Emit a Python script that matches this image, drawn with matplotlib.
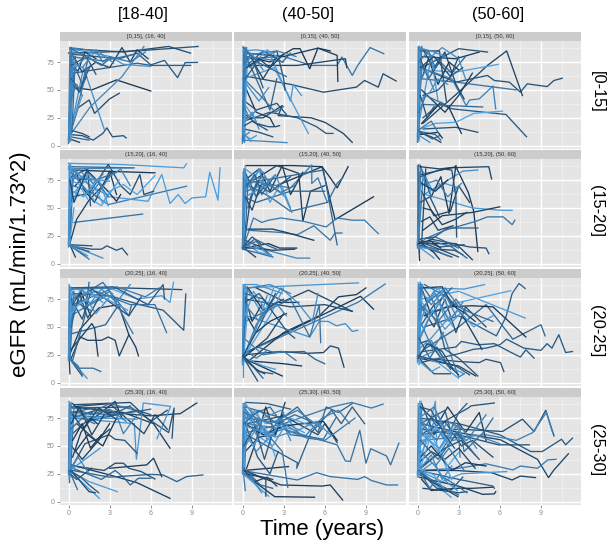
import matplotlib
matplotlib.use("Agg")
import matplotlib.pyplot as plt
from matplotlib.colors import LinearSegmentedColormap

plt.rcParams['font.family'] = ['Liberation Sans', 'DejaVu Sans']

# each trajectory: patient shade (0 dark .. 1 light), times (years), eGFR
# names: egfr_<baseline bmi row>_<age column>
egfr_0_18 = [
    (0.3, [0.0, 5.0, 9.45], [83, 85, 89]),
    (0.25, [0.1, 4.0, 7.3, 8.9], [87, 84, 89, 83]),
    (0.35, [0.3, 3.7, 5.0, 6.0, 7.0, 7.95, 8.5, 9.4], [82, 78, 83, 72.5, 76.5, 61, 74.5, 74.7]),
    (0.4, [0.3, 5.0, 6.0, 8.9], [65, 74, 72, 72]),
    (0.1, [0.4, 1.7, 3.5, 6.0], [52, 50, 59, 49]),
    (0.25, [0.1, 0.7, 1.5, 1.9, 3.0, 3.7], [10, 34, 41, 29, 42, 47]),
    (0.3, [0.1, 1.0, 1.8, 2.5, 2.8, 3.2, 4.0, 4.2], [10, 9, 5, 11, 16, 8, 9, 7]),
    (0.8, [0.2, 3.0, 4.0, 6.0], [87, 80, 73, 71]),
    (0.75, [0.1, 1.1, 2.6], [10, 70, 15]),
    (0.7, [0.2, 1.6, 3.9, 5.5], [11, 35, 62, 89]),
    (0.2, [0.2, 1.0, 2.0, 3.0, 3.9, 4.5, 5.0, 5.8], [84, 66, 75, 70, 88, 75, 86, 78]),
    (0.6, [0.1, 2.0, 2.5, 3.0, 4.5, 5.6], [88, 85, 75, 80, 75, 84]),
    (0.15, [0.3, 0.7, 1.2, 2.0], [70, 67, 84, 78]),
    (0.7, [0.0, 0.25], [3, 86]),
    (0.85, [0.05, 0.3], [8, 78]),
    (0.65, [0.1, 0.35], [14, 60]),
    (0.9, [0.0, 0.2], [5, 65]),
    (0.5, [0.15, 0.5, 1.0, 1.5], [50, 70, 55, 82]),
    (0.2, [0.3, 0.8, 1.3], [55, 48, 62]),
    (0.3, [0.1, 1.0, 1.5], [14, 11, 8]),
    (0.5, [0.1, 1.5], [8, 5]),
    (0.2, [0.1, 0.8], [6, 3]),
    (0.6, [0.15, 0.5, 1.4], [12, 28, 70]),
    (0.85, [0.05, 1.0], [12, 45]),
    (0.45, [0.2, 1.6, 2.4, 3.1], [87, 78, 72, 79]),
    (0.6, [0.0, 0.1], [2, 88]),
    (0.75, [0.05, 0.15], [3, 82]),
    (0.55, [0.1, 0.2], [6, 88]),
    (0.8, [0.15, 0.3], [4, 72]),
    (0.65, [0.05, 0.4], [10, 87]),
    (0.7, [0.0, 0.15], [6, 55]),
    (0.5, [0.25, 0.5], [12, 80]),
    (0.55, [0.1, 2.5, 4.8], [80, 76, 82]),
    (0.35, [0.2, 1.3, 2.0], [72, 80, 64]),
    (0.65, [0.1, 0.9, 1.7], [65, 75, 85]),
    (0.7, [0.3, 1.0, 2.0, 3.3], [75, 70, 86, 74]),
    (0.4, [0.2, 0.8, 1.6], [60, 50, 72]),
    (0.6, [0.1, 0.6, 1.0], [40, 55, 45]),
]
egfr_0_40 = [
    (0.55, [0.1, 3.0, 5.0, 6.9, 7.25, 8.0, 8.4, 9.3, 10.3], [78, 80, 72, 72, 79.5, 63, 72, 88, 82.5]),
    (0.25, [0.4, 3.5, 5.9, 8.3, 8.9, 9.9, 10.25, 11.2], [62, 55, 48, 52.5, 58.5, 52.5, 64.5, 58]),
    (0.2, [0.2, 1.5, 2.9, 2.6, 5.0, 6.0, 7.35, 8.0], [25, 25, 36, 27, 25, 21, 11, 3]),
    (0.35, [0.1, 2.0, 4.0, 5.4, 6.1, 6.6], [22, 30, 25, 17, 11, 11]),
    (0.85, [0.1, 2.3, 4.8], [60, 70, 11]),
    (0.1, [0.3, 2.0, 3.7, 4.2, 4.9, 5.5, 6.4], [80, 75, 87, 87, 69, 87.5, 85]),
    (0.15, [0.2, 3.0, 5.5, 6.9, 6.95], [83, 80, 87.5, 81, 57.7]),
    (0.2, [0.1, 4.0, 7.5, 7.6], [72, 72, 78, 70]),
    (0.7, [0.0, 1.5, 3.25], [5, 4, 2.7]),
    (0.8, [0.1, 0.5, 2.0, 3.5, 3.7, 4.3], [88, 70, 82, 40, 55, 45]),
    (0.3, [0.2, 2.5, 3.0, 3.1], [70, 85, 60, 50]),
    (0.45, [0.1, 2.0, 2.5], [85, 32, 60]),
    (0.75, [0.0, 1.2, 1.9], [60, 40, 52]),
    (0.6, [0.0, 0.2], [3, 88]),
    (0.9, [0.05, 0.3], [8, 86]),
    (0.7, [0.0, 0.15], [12, 70]),
    (0.5, [0.1, 0.3], [30, 84]),
    (0.2, [0.4, 1.5, 2.5], [84, 60, 80]),
    (0.15, [0.3, 1.0, 2.0, 2.3], [50, 30, 25, 18]),
    (0.25, [0.2, 1.0, 1.9, 2.4, 2.7], [28, 20, 17, 17, 18]),
    (0.3, [0.1, 1.2, 2.2], [15, 12, 8]),
    (0.8, [0.05, 0.6, 1.0], [10, 6, 9]),
    (0.85, [0.0, 1.0], [40, 22]),
    (0.65, [0.1, 0.8, 2.5, 3.9], [85, 82, 85, 80]),
    (0.4, [0.15, 1.5, 2.9, 3.5], [70, 85, 75, 83]),
    (0.55, [0.1, 1.3, 2.4, 3.0], [60, 45, 30, 35]),
    (0.9, [0.1, 1.0, 1.8, 2.7], [88, 76, 86, 78]),
    (0.3, [0.15, 1.0, 2.5, 3.2], [40, 32, 38, 28]),
    (0.7, [0.0, 0.05], [2, 89]),
    (0.6, [0.05, 0.1], [4, 84]),
    (0.8, [0.1, 0.1], [3, 88]),
    (0.5, [0.0, 0.25], [6, 78]),
    (0.75, [0.05, 0.2], [10, 88]),
    (0.65, [0.15, 0.3], [4, 88]),
    (0.9, [0.1, 0.35], [14, 72]),
    (0.55, [0.05, 0.15], [25, 85]),
    (0.8, [0.05, 1.0, 2.0], [85, 86, 84]),
    (0.6, [0.1, 1.5, 3.0], [80, 78, 75]),
    (0.7, [0.1, 0.7, 1.5], [70, 82, 68]),
    (0.5, [0.05, 1.1, 1.9, 3.2], [88, 75, 70, 62]),
    (0.35, [0.2, 0.9, 1.5], [60, 72, 52]),
    (0.6, [0.1, 0.5, 1.0], [35, 25, 32]),
    (0.75, [0.05, 0.7, 1.2], [20, 30, 15]),
    (0.8, [0.0, 0.6], [12, 4]),
    (0.3, [0.15, 0.7, 1.8], [18, 22, 14]),
    (0.65, [0.05, 0.5], [8, 12]),
    (0.2, [0.3, 1.2, 2.0, 3.0], [70, 78, 70, 82]),
]
egfr_0_50 = [
    (0.2, [0.4, 3.0, 5.1, 6.5, 7.65], [20, 48, 72, 85, 45]),
    (0.3, [0.2, 2.8, 5.1, 5.6, 6.7, 7.5, 8.0, 9.45, 9.95, 10.55], [70, 57, 63, 58.5, 57, 48, 55.5, 53, 58.5, 60.5]),
    (0.35, [0.4, 1.6, 2.55, 6.45, 7.95], [25, 37.6, 33, 28, 8]),
    (0.3, [0.4, 2.8, 4.4], [15, 16.5, 12]),
    (0.1, [0.3, 1.7, 2.3, 3.2], [20, 39, 34, 11]),
    (0.9, [0.2, 1.3, 2.8, 4.1, 6.2], [15, 20, 21, 29, 31]),
    (0.65, [0.2, 2.5, 3.55, 3.8, 4.5, 5.5, 5.7], [70, 60, 36, 41, 42, 53.5, 33]),
    (0.5, [0.4, 4.75], [37, 34.7]),
    (0.9, [0.2, 2.8, 5.9], [68, 66, 73]),
    (0.15, [0.2, 2.8, 4.5], [80, 78, 84]),
    (0.3, [0.3, 3.0, 5.1], [70, 87, 84]),
    (0.55, [0.3, 2.8, 7.2], [60, 57, 50]),
    (0.6, [0.0, 0.2], [3, 88]),
    (0.85, [0.05, 0.15], [5, 75]),
    (0.75, [0.0, 0.25], [10, 85]),
    (0.2, [0.3, 1.2, 2.0, 2.8, 3.4], [88, 70, 84, 55, 42]),
    (0.45, [0.2, 1.5, 2.5, 3.5], [87, 77, 65, 80]),
    (0.1, [0.3, 0.8, 1.5, 2.3, 3.0], [60, 78, 55, 75, 68]),
    (0.75, [0.1, 1.0, 1.8, 3.0, 3.5], [89, 80, 88, 78, 60]),
    (0.25, [0.2, 1.6, 2.1], [85, 85, 40]),
    (0.8, [0.1, 1.0, 1.5], [20, 80, 40]),
    (0.2, [0.1, 1.0, 1.7], [12, 8, 3]),
    (0.5, [0.1, 1.3, 1.7], [13, 10, 5]),
    (0.1, [0.2, 1.5, 1.8], [10, 12, 7]),
    (0.35, [0.4, 1.5, 2.5, 3.3], [45, 50, 63, 70]),
    (0.15, [0.3, 2.0, 3.0, 4.0], [50, 30, 45, 65]),
    (0.7, [0.0, 0.05], [3, 88]),
    (0.6, [0.05, 0.1], [5, 89]),
    (0.8, [0.1, 0.15], [4, 84]),
    (0.55, [0.0, 0.3], [8, 70]),
    (0.85, [0.05, 0.2], [12, 80]),
    (0.65, [0.1, 0.3], [6, 89]),
    (0.75, [0.05, 1.0, 2.0], [88, 85, 80]),
    (0.6, [0.1, 0.8, 1.3, 2.0], [75, 85, 70, 82]),
    (0.4, [0.2, 0.8, 1.6], [78, 60, 75]),
    (0.7, [0.1, 0.6, 1.2], [55, 68, 50]),
    (0.8, [0.1, 0.9, 1.5, 2.2], [40, 48, 60, 55]),
    (0.3, [0.2, 0.7, 1.2], [45, 25, 35]),
    (0.6, [0.05, 1.0, 1.5], [14, 22, 12]),
    (0.75, [0.0, 0.9], [10, 3]),
    (0.4, [0.1, 1.1, 1.6], [13, 6, 9]),
    (0.55, [0.1, 0.6, 1.8], [30, 45, 38]),
    (0.25, [0.2, 1.2, 2.4, 3.0], [70, 80, 62, 80]),
]
egfr_15_18 = [
    (0.85, [0.0, 3.8, 8.4, 8.6], [90, 89, 86, 89.5]),
    (0.6, [0.3, 1.5, 2.9, 8.6], [70, 65, 53, 69.5]),
    (0.85, [0.3, 3.0, 5.8, 6.2, 6.8, 7.4, 8.0, 8.5, 9.0, 10.0, 10.3, 10.9, 11.05], [80, 60, 56, 66, 80, 54, 62, 54, 59, 60, 82, 57, 86]),
    (0.55, [0.4, 5.4], [37, 44.5]),
    (0.3, [0.1, 1.7, 2.4, 2.8, 3.5, 3.9, 4.3], [16, 13, 13, 16, 12, 14, 8]),
    (0.2, [0.05, 0.6, 1.5, 2.5, 3.2], [16, 40, 57, 70, 83]),
    (0.1, [0.1, 6.3], [84, 81.5]),
    (0.4, [0.0, 4.7], [87, 86]),
    (0.2, [0.1, 0.5], [17, 6]),
    (0.75, [0.1, 2.5], [17, 5]),
    (0.6, [0.1, 1.5], [17, 4]),
    (0.4, [0.1, 1.5], [16, 11]),
    (0.5, [0.1, 1.2], [16, 7]),
    (0.3, [0.1, 1.7], [17, 16]),
    (0.8, [0.0, 0.15], [17, 88]),
    (0.7, [0.05, 0.3], [17, 76]),
    (0.9, [0.0, 0.2], [18, 84]),
    (0.15, [0.4, 1.2, 1.9, 3.0, 3.5], [85, 65, 55, 83, 62]),
    (0.1, [0.5, 1.4, 2.8, 3.5, 3.8], [70, 83, 66, 56, 62]),
    (0.25, [0.3, 1.5, 2.9, 3.8, 4.5, 5.2, 5.5, 6.2], [60, 63, 89, 70, 62, 80, 62, 65]),
    (0.9, [0.1, 1.0, 2.0, 2.4, 3.0, 4.0, 5.0, 6.3], [75, 70, 55, 52, 65, 71, 62, 79]),
    (0.7, [0.1, 1.2, 2.0, 3.0, 3.8, 4.5], [85, 76, 60, 78, 85, 70]),
    (0.9, [0.1, 1.5, 2.5, 3.7], [60, 78, 54, 75]),
    (0.3, [0.2, 1.4, 1.6], [78, 85, 52]),
    (0.5, [0.1, 2.0, 3.5], [77, 75, 82]),
    (0.65, [0.0, 4.8], [85, 86]),
    (0.8, [0.0, 0.05], [15, 90]),
    (0.65, [0.05, 0.1], [16, 86]),
    (0.9, [0.1, 0.15], [17, 89]),
    (0.75, [0.0, 0.25], [18, 65]),
    (0.55, [0.1, 0.35], [16, 84]),
    (0.85, [0.05, 0.4], [17, 50]),
    (0.8, [0.1, 0.9, 1.5, 2.4], [88, 78, 80, 70]),
    (0.7, [0.2, 0.7, 1.8, 2.5], [70, 85, 72, 80]),
    (0.85, [0.3, 1.1, 2.2, 2.9], [65, 60, 76, 52]),
    (0.6, [0.2, 1.6, 2.2, 2.9], [82, 62, 72, 60]),
    (0.9, [0.1, 0.8, 1.4], [50, 70, 58]),
    (0.75, [0.1, 1.0, 3.0], [77, 77, 74]),
    (0.8, [0.05, 1.4], [17, 7]),
    (0.65, [0.05, 1.0], [16, 14]),
    (0.2, [0.1, 0.4, 1.3], [75, 55, 82]),
]
egfr_15_40 = [
    (0.1, [0.3, 3.7, 5.8, 6.4, 6.9, 7.7], [88, 88, 87, 77, 68, 87]),
    (0.1, [2.5, 5.8, 6.75, 9.55], [70, 87, 39.5, 60]),
    (0.15, [0.2, 2.5, 4.1, 4.4, 4.95, 6.0], [70, 88, 81, 38, 65, 70]),
    (0.6, [0.2, 0.8, 1.4, 1.9, 2.8, 4.45, 6.1, 6.9, 8.0, 8.9, 9.9], [20, 41, 37, 39, 41, 38, 33, 41, 39, 39, 27]),
    (0.55, [0.4, 2.8, 4.0, 5.2, 6.4, 6.75, 7.25], [30, 28, 26, 34, 21, 27.5, 27.5]),
    (0.15, [0.4, 2.2, 3.2, 5.2], [31, 31, 28, 21]),
    (0.1, [0.0, 1.9, 2.7, 3.95], [14, 18, 14, 14]),
    (0.7, [1.5, 3.95, 4.9], [13, 5, 5]),
    (0.2, [0.0, 0.95], [15, 6]),
    (0.45, [0.2, 5.9, 6.9], [72, 84, 17]),
    (0.6, [0.1, 3.5, 5.05, 5.05, 5.5, 6.15], [75, 68, 88.5, 72, 77, 56]),
    (0.5, [0.5, 2.0, 3.5, 6.2, 6.9, 7.3], [70, 60, 47, 55, 72, 77]),
    (0.45, [0.1, 1.0, 3.5, 6.0], [60, 55, 65, 65]),
    (0.8, [0.0, 0.2], [14, 88]),
    (0.6, [0.05, 0.25], [16, 78]),
    (0.9, [0.0, 0.15], [15, 65]),
    (0.25, [0.1, 0.6, 1.5], [16, 60, 82]),
    (0.15, [0.2, 1.2, 2.0, 2.9, 3.5, 4.4], [75, 85, 65, 88, 62, 82]),
    (0.85, [0.2, 1.5, 2.0, 2.8, 3.5], [85, 73, 55, 72, 50]),
    (0.75, [0.1, 1.3, 2.1, 3.1, 3.6], [65, 85, 70, 60, 46]),
    (0.35, [0.4, 1.0, 2.0, 3.5], [50, 72, 64, 78]),
    (0.5, [0.0, 1.0, 2.2], [13, 10, 6]),
    (0.3, [0.0, 1.5, 2.0], [22, 14, 8]),
    (0.8, [0.05, 1.2, 2.1], [20, 10, 8]),
    (0.2, [0.1, 1.2, 2.2, 3.8], [14, 14, 12, 13]),
    (0.35, [0.2, 1.0, 2.0], [82, 60, 75]),
    (0.7, [0.0, 0.05], [14, 82]),
    (0.55, [0.05, 0.1], [15, 85]),
    (0.85, [0.1, 0.15], [14, 80]),
    (0.65, [0.0, 0.3], [18, 78]),
    (0.75, [0.05, 0.2], [22, 84]),
    (0.5, [0.15, 0.4], [16, 72]),
    (0.8, [0.1, 0.6, 1.2, 1.7], [80, 70, 85, 65]),
    (0.65, [0.2, 1.0, 1.6, 2.3], [75, 60, 78, 68]),
    (0.4, [0.3, 0.9, 1.4, 2.3], [70, 80, 62, 78]),
    (0.75, [0.2, 1.4, 2.4, 3.0], [60, 68, 80, 62]),
    (0.55, [0.3, 1.7, 2.8, 3.8], [65, 72, 64, 70]),
    (0.25, [0.2, 0.7, 1.3], [60, 48, 70]),
    (0.6, [0.05, 1.0, 1.6], [15, 20, 12]),
    (0.75, [0.05, 1.5, 2.2], [17, 12, 6]),
    (0.3, [0.1, 0.7, 1.3], [16, 24, 18]),
    (0.45, [0.0, 0.9, 1.9, 2.5], [14, 22, 16, 13]),
]
egfr_15_50 = [
    (0.2, [0.2, 1.6, 2.3, 5.2, 5.4], [87, 85, 86, 87, 76]),
    (0.1, [0.3, 2.8, 3.7, 4.1, 4.4], [80, 87, 64, 47, 11]),
    (0.85, [0.6, 4.0, 6.0, 6.9], [62, 50, 48, 47.8]),
    (0.15, [0.4, 1.8, 4.0, 6.0], [30, 43, 46, 51]),
    (0.75, [0.6, 3.3, 4.4], [63, 83, 84]),
    (0.55, [0.5, 2.0, 4.25, 5.1, 6.25, 6.9, 7.1], [22, 30, 38, 42, 42, 35, 39]),
    (0.4, [0.9, 2.2, 4.4], [21, 32, 32]),
    (0.3, [0.6, 3.8, 5.0, 5.2], [23, 15, 14, 9]),
    (0.2, [0.1, 2.8, 4.0], [18, 18, 3.6]),
    (0.25, [0.0, 2.5], [17, 6]),
    (0.7, [0.1, 0.0], [15, 88]),
    (0.85, [0.15, 0.05], [10, 70]),
    (0.55, [0.0, 0.25], [20, 85]),
    (0.1, [0.2, 1.0, 1.7, 2.3, 2.8], [88, 60, 78, 45, 88]),
    (0.2, [0.3, 1.2, 2.4, 3.0, 3.8], [65, 43, 47, 70, 55]),
    (0.15, [0.4, 1.0, 1.8, 2.8, 3.6], [50, 48, 35, 40, 46]),
    (0.8, [0.3, 1.1, 2.0, 3.0], [85, 65, 72, 68]),
    (0.65, [0.2, 1.4, 2.2, 3.2], [70, 75, 60, 72]),
    (0.3, [0.2, 1.8, 2.5, 2.8, 2.85], [78, 85, 84, 60, 24]),
    (0.2, [0.0, 1.3, 2.7, 3.3], [17, 13, 12, 8]),
    (0.8, [0.0, 1.0, 1.2], [16, 7, 5]),
    (0.1, [0.1, 1.2, 1.6], [20, 10, 4]),
    (0.35, [0.1, 1.6, 3.4], [22, 15, 17]),
    (0.1, [0.1, 0.15], [15, 3]),
    (0.5, [0.0, 1.2, 2.5, 3.6], [19, 20, 15, 5]),
    (0.65, [0.0, 0.05], [14, 88]),
    (0.75, [0.1, 0.15], [13, 82]),
    (0.5, [0.05, 0.1], [15, 89]),
    (0.85, [0.0, 0.3], [18, 60]),
    (0.6, [0.05, 0.4], [16, 78]),
    (0.25, [0.3, 0.6], [18, 85]),
    (0.7, [0.1, 0.6, 1.0], [70, 78, 60]),
    (0.3, [0.2, 0.9, 1.6], [55, 60, 42]),
    (0.2, [0.3, 0.9, 1.5, 2.6], [38, 42, 30, 34]),
    (0.45, [0.1, 1.3, 2.0, 3.0], [22, 24, 20, 14]),
    (0.6, [0.05, 1.0, 2.2], [16, 14, 7]),
    (0.3, [0.1, 1.8, 3.0], [20, 12, 6]),
    (0.1, [0.05, 0.9, 1.7], [18, 21, 14]),
    (0.75, [0.05, 1.5], [15, 12]),
    (0.15, [0.3, 1.3, 2.2], [72, 65, 75]),
]
egfr_20_18 = [
    (0.25, [0.1, 4.0, 8.25], [84, 85, 83.5]),
    (0.35, [0.2, 3.0, 5.2, 6.9, 8.4, 8.55], [80, 78, 70, 65, 47, 79.5]),
    (0.85, [0.2, 3.0, 5.0, 6.8, 7.4, 7.65], [85, 85, 75, 78, 72, 90]),
    (0.55, [0.3, 2.0, 4.5, 6.3, 7.15], [75, 82, 70, 70, 45]),
    (0.15, [0.05, 0.85, 2.2, 3.65, 4.4, 4.9, 5.1], [24, 48, 67, 70, 43, 32, 24]),
    (0.2, [0.2, 0.85, 1.4, 2.4, 2.9, 3.4, 3.7, 4.4], [22, 41, 38, 38, 41, 38, 24, 43]),
    (0.45, [0.25, 2.7, 3.5], [44, 52, 67]),
    (0.15, [0.2, 1.7, 1.9, 2.15], [30, 53, 49, 24]),
    (0.3, [0.05, 1.0], [22, 6]),
    (0.8, [0.05, 1.35], [22, 4]),
    (0.5, [0.1, 0.7, 1.8, 2.35], [22, 13, 13, 10]),
    (0.2, [0.05, 0.1], [22, 8]),
    (0.8, [0.0, 0.1], [20, 86]),
    (0.65, [0.05, 0.25], [22, 80]),
    (0.9, [0.05, 0.2], [20, 70]),
    (0.5, [0.1, 1.2, 2.5, 4.4, 4.6], [60, 80, 90, 60, 70]),
    (0.7, [0.1, 1.2, 2.4, 3.5, 4.5], [85, 65, 84, 72, 88]),
    (0.3, [0.2, 1.0, 1.7, 2.7, 4.4, 5.3], [75, 57, 84, 75, 60, 77]),
    (0.1, [0.2, 0.9, 1.6], [55, 82, 60]),
    (0.6, [0.3, 3.5, 5.6, 6.6], [70, 86, 77, 85]),
    (0.85, [0.3, 2.8, 4.3], [85, 75, 65]),
    (0.35, [0.1, 3.3, 5.8, 6.9, 7.0], [85, 86, 70, 88, 75]),
    (0.45, [0.3, 1.2, 1.5], [20, 60, 90]),
    (0.6, [0.2, 3.0, 4.7], [60, 82, 44]),
    (0.7, [0.0, 0.05], [20, 88]),
    (0.6, [0.05, 0.1], [22, 85]),
    (0.85, [0.1, 0.15], [24, 86]),
    (0.75, [0.0, 0.3], [25, 75]),
    (0.55, [0.1, 0.4], [20, 82]),
    (0.8, [0.2, 0.6, 1.5, 2.5], [80, 75, 82, 72]),
    (0.65, [0.2, 1.0, 1.6, 2.8], [72, 84, 70, 78]),
    (0.3, [0.3, 0.8, 1.4, 2.2], [70, 80, 58, 76]),
    (0.75, [0.2, 1.3, 2.0, 3.2], [65, 75, 62, 80]),
    (0.45, [0.2, 0.6, 1.6], [50, 72, 65]),
    (0.9, [0.1, 0.7, 1.4], [60, 70, 75]),
    (0.55, [0.05, 0.7, 1.0], [22, 15, 7]),
]
egfr_20_40 = [
    (0.1, [0.05, 8.6, 9.55], [26, 77.5, 66]),
    (0.6, [0.05, 8.4, 10.4], [26, 72, 88.5]),
    (0.8, [0.1, 8.45], [85, 89.5]),
    (0.15, [0.5, 3.0, 5.6, 7.0, 8.3, 9.0], [20, 45, 60, 77, 79, 85]),
    (0.2, [1.0, 3.0, 4.8, 8.0], [85, 73, 83, 64]),
    (0.25, [0.2, 3.5, 6.0, 8.0], [75, 68, 70, 64]),
    (0.75, [0.3, 4.9, 5.6, 6.25, 6.85, 7.5, 8.0, 8.4], [60, 41, 55, 55, 51, 53, 46, 47]),
    (0.2, [0.1, 2.8, 4.6, 5.9, 6.4, 7.0, 7.4], [25, 28, 26.3, 27, 33, 31, 14]),
    (0.45, [0.1, 1.1, 2.3, 4.5, 5.3, 6.0], [25, 32, 27, 28, 21, 17]),
    (0.1, [0.1, 3.0, 4.3], [20, 17, 15]),
    (0.1, [0.05, 2.9], [22, 6]),
    (0.3, [0.05, 1.1], [23, 1.5]),
    (0.8, [0.05, 0.05], [22, 5]),
    (0.7, [0.0, 0.2], [20, 88]),
    (0.9, [0.05, 0.25], [22, 82]),
    (0.55, [0.0, 0.15], [18, 75]),
    (0.1, [0.4, 1.5, 2.5, 3.4, 4.1], [85, 65, 72, 72, 72]),
    (0.85, [0.05, 2.0, 3.0], [22, 60, 85]),
    (0.55, [0.2, 3.5, 4.9, 5.6, 5.7], [55, 75, 41, 70, 36]),
    (0.3, [0.2, 1.5, 3.3, 3.8], [80, 75, 45, 40]),
    (0.75, [0.3, 1.5, 2.8, 4.0, 5.1, 5.5], [85, 60, 85, 72, 55, 80]),
    (0.2, [0.05, 1.8, 3.0], [22, 40, 62]),
    (0.6, [0.1, 1.5, 3.0, 3.9], [40, 25, 28, 20]),
    (0.4, [0.05, 1.2, 2.2], [22, 10, 8]),
    (0.85, [0.2, 1.5, 2.4], [22, 15, 12]),
    (0.2, [0.1, 0.7, 1.4], [80, 55, 70]),
    (0.65, [0.5, 2.0, 3.5], [85, 88, 80]),
    (0.15, [0.3, 1.0, 2.0, 3.2], [60, 45, 55, 62]),
    (0.75, [0.0, 0.05], [16, 88]),
    (0.6, [0.05, 0.1], [20, 84]),
    (0.85, [0.1, 0.15], [18, 87]),
    (0.7, [0.0, 0.3], [22, 78]),
    (0.5, [0.05, 0.35], [22, 86]),
    (0.9, [0.1, 0.4], [25, 70]),
    (0.8, [0.1, 1.0, 2.0, 2.9], [88, 88, 84, 80]),
    (0.55, [0.05, 1.0, 2.2], [22, 52, 75]),
    (0.7, [0.05, 0.9, 1.8], [24, 45, 78]),
    (0.3, [0.05, 1.2, 2.4], [24, 50, 80]),
    (0.65, [0.2, 1.2, 2.4, 3.2], [70, 55, 72, 60]),
    (0.85, [0.2, 0.8, 1.7, 2.3], [60, 82, 65, 86]),
    (0.45, [0.05, 0.8, 1.5], [22, 14, 4]),
    (0.2, [0.05, 1.0, 1.6], [24, 12, 8]),
    (0.6, [0.1, 1.0, 1.7], [30, 22, 28]),
    (0.35, [0.2, 1.2, 2.0, 3.0], [72, 80, 68, 75]),
]
egfr_20_50 = [
    (0.4, [0.5, 3.0, 5.75, 6.45, 6.9, 7.4, 7.85], [50, 60, 42, 59, 80, 89, 84.5]),
    (0.85, [0.3, 3.0, 7.85], [75, 82, 58]),
    (0.9, [0.2, 3.0, 6.8], [60, 72, 82.5]),
    (0.8, [0.2, 3.4, 4.9], [85, 84, 88]),
    (0.35, [0.4, 2.8, 3.2, 4.4, 5.6, 7.0, 7.5, 7.9, 8.5], [28, 32, 37, 34, 35, 26, 23, 29.5, 22]),
    (0.35, [0.2, 3.0, 4.1, 5.0, 6.0, 6.5, 7.75, 9.0, 9.45, 9.8, 10.3, 10.8, 11.3], [18, 26, 30, 31, 34, 39, 31, 29, 35, 31, 43, 27, 28]),
    (0.45, [0.5, 3.0, 5.0, 6.95, 9.0, 9.3], [30, 50, 70, 39, 52, 42]),
    (0.3, [0.5, 3.0, 4.5, 5.0, 6.05, 6.3], [22, 19, 18, 21, 18, 10]),
    (0.1, [0.5, 2.2, 4.0, 5.5, 7.9], [60, 68, 69, 68, 41]),
    (0.2, [0.05, 3.0, 4.25], [22, 15, 6]),
    (0.3, [0.1, 1.2, 2.4], [22, 8, 8]),
    (0.8, [0.0, 0.2], [20, 90]),
    (0.9, [0.1, 0.1], [18, 75]),
    (0.6, [0.0, 0.25], [22, 88]),
    (0.75, [0.05, 0.3], [25, 85]),
    (0.15, [0.3, 1.0, 2.0, 3.3, 4.0, 4.7], [85, 60, 80, 60, 45, 30]),
    (0.25, [0.2, 1.2, 2.0, 2.8, 3.5, 5.0], [70, 50, 75, 45, 68, 50]),
    (0.85, [0.2, 1.3, 2.1, 3.0, 4.1, 5.5], [65, 80, 55, 65, 50, 60]),
    (0.6, [0.2, 1.0, 2.0, 3.0, 3.4], [40, 62, 40, 5, 8]),
    (0.75, [0.1, 1.5, 2.2, 3.4], [22, 30, 15, 8]),
    (0.2, [0.1, 0.8, 1.7, 3.0], [35, 38, 22, 7]),
    (0.45, [0.3, 1.3, 2.5], [88, 70, 85]),
    (0.8, [0.1, 1.0, 2.4], [30, 40, 60]),
    (0.15, [0.2, 1.8, 2.5, 3.5, 4.2], [85, 86, 70, 62, 55]),
    (0.5, [0.5, 1.7, 3.0, 4.0, 5.5], [88, 80, 68, 62, 55]),
    (0.9, [0.0, 1.5, 3.0], [25, 18, 4]),
    (0.35, [0.2, 1.2, 2.0, 3.0, 4.4], [50, 70, 30, 22, 6]),
    (0.65, [0.2, 1.1, 1.9], [55, 30, 45]),
    (0.85, [0.0, 0.05], [18, 90]),
    (0.7, [0.05, 0.1], [20, 88]),
    (0.9, [0.1, 0.15], [16, 85]),
    (0.6, [0.15, 0.2], [22, 89]),
    (0.8, [0.0, 0.3], [24, 80]),
    (0.75, [0.1, 0.35], [20, 88]),
    (0.65, [0.1, 1.0, 1.9, 2.8], [85, 70, 82, 60]),
    (0.9, [0.2, 0.9, 1.6, 2.6], [75, 60, 72, 50]),
    (0.7, [0.1, 1.2, 2.3, 3.3], [60, 82, 55, 72]),
    (0.85, [0.1, 0.7, 1.5, 2.2], [50, 72, 85, 68]),
    (0.55, [0.2, 1.5, 2.8, 3.8], [70, 55, 75, 58]),
    (0.8, [0.3, 1.1, 2.0, 3.1], [45, 65, 48, 62]),
    (0.45, [0.1, 0.9, 1.4, 2.4], [40, 22, 32, 12]),
    (0.7, [0.1, 1.0, 1.8], [25, 38, 20]),
    (0.25, [0.05, 0.7, 1.8, 2.6], [22, 35, 28, 12]),
    (0.85, [0.05, 1.0, 1.6], [20, 10, 14]),
    (0.6, [0.1, 2.0, 2.9], [65, 85, 70]),
    (0.3, [0.05, 1.3, 2.8, 3.8], [24, 20, 15, 7]),
]
egfr_25_18 = [
    (0.15, [0.2, 3.0, 5.0, 7.4], [33, 24, 17, 3]),
    (0.4, [0.3, 3.0, 6.0, 6.9, 7.9, 8.6, 9.8], [28, 22, 24.5, 24, 18, 22.5, 24]),
    (0.15, [3.0, 5.7, 6.2, 6.8], [30, 33, 39, 22.5]),
    (0.25, [0.4, 2.6, 3.4, 4.0, 4.4, 5.3, 6.3], [32, 28, 34.5, 34.5, 30, 27, 20.4]),
    (0.45, [0.3, 2.4, 3.4, 4.0, 4.5, 5.1, 6.0], [30, 20, 28, 22, 15, 21, 21]),
    (0.2, [0.2, 2.0, 3.0, 6.0, 8.15, 9.35], [75, 82, 80, 77, 79, 88.5]),
    (0.15, [0.3, 4.0, 6.2, 7.4], [85, 80, 70, 48]),
    (0.3, [0.3, 4.5, 7.3, 7.7, 7.55], [84, 85, 62, 84, 57]),
    (0.8, [0.2, 4.8, 4.95, 5.45, 7.45, 6.45], [75, 70, 38, 88.5, 85.5, 56.5]),
    (0.3, [0.2, 1.2, 2.95, 3.4, 4.1, 5.0], [30, 52, 60, 56, 55, 43.5]),
    (0.85, [0.05, 1.5, 3.55], [28, 18, 9]),
    (0.85, [0.05, 2.25], [28, 3]),
    (0.2, [0.05, 1.5, 1.95], [30, 9, 8]),
    (0.5, [0.05, 0.65], [28, 11]),
    (0.45, [0.0, 0.0], [18, 83]),
    (0.75, [0.05, 0.2], [20, 89]),
    (0.9, [0.1, 0.3], [28, 80]),
    (0.8, [0.0, 2.3], [27, 48]),
    (0.1, [0.3, 1.5, 2.4, 3.4, 3.9], [88, 72, 80, 90, 75]),
    (0.2, [0.2, 3.0, 5.5, 6.3, 7.2], [85, 88, 61, 78, 65]),
    (0.1, [0.5, 1.4, 2.5, 3.5], [45, 60, 50, 75]),
    (0.65, [0.1, 2.0, 3.5, 4.0, 5.0], [78, 76, 78, 61, 78]),
    (0.25, [0.4, 4.5, 6.0, 7.2], [87, 89, 72, 82]),
    (0.55, [0.3, 1.7, 3.0, 5.5], [75, 80, 88, 80]),
    (0.15, [0.2, 1.0, 2.2, 3.0], [50, 38, 55, 70]),
    (0.35, [0.2, 1.3, 2.8, 5.0, 6.0], [60, 72, 76, 82, 78]),
    (0.75, [0.1, 2.5, 5.0], [75, 75, 74]),
    (0.2, [0.6, 2.0, 3.0], [70, 55, 65]),
    (0.45, [0.2, 3.5, 6.0], [80, 78, 83]),
    (0.3, [0.1, 0.6, 1.7], [25, 20, 30]),
    (0.6, [0.0, 0.05], [24, 90]),
    (0.8, [0.05, 0.1], [26, 84]),
    (0.7, [0.1, 0.15], [22, 88]),
    (0.55, [0.15, 0.4], [26, 85]),
    (0.85, [0.05, 0.3], [28, 75]),
    (0.4, [0.2, 1.8, 3.2, 4.5], [80, 84, 78, 86]),
    (0.6, [0.1, 1.6, 3.0, 4.2], [86, 78, 83, 72]),
    (0.2, [0.2, 0.8, 1.7, 2.6], [70, 85, 60, 78]),
    (0.1, [0.3, 1.0, 1.6, 2.4], [55, 70, 48, 60]),
    (0.5, [0.15, 1.0, 1.9], [65, 75, 70]),
    (0.25, [0.3, 1.1, 2.2, 3.5], [78, 65, 84, 74]),
    (0.7, [0.1, 0.7, 1.5], [28, 40, 25]),
    (0.35, [0.05, 0.9, 1.5, 2.2], [28, 22, 15, 8]),
    (0.15, [0.3, 0.9, 1.6, 2.1], [40, 62, 75, 70]),
]
egfr_25_40 = [
    (0.55, [0.0, 4.0, 5.4, 6.4, 8.4, 8.9, 9.4, 10.5, 11.3], [28, 19.5, 26, 22.5, 20, 22.5, 19, 15, 15]),
    (0.55, [0.3, 3.0, 6.9, 7.5, 7.85, 8.55, 9.0, 9.35, 10.5, 10.8, 11.4], [70, 65, 51, 36.6, 36, 64, 34.5, 47.5, 41, 33, 52.5]),
    (0.1, [0.1, 2.35, 5.25], [25, 4.5, 4]),
    (0.15, [0.1, 2.8, 5.8, 6.4, 7.3], [28, 15, 14, 15, 1.5]),
    (0.6, [0.3, 3.0, 6.5, 7.95, 9.4, 10.25], [75, 70, 85, 89, 84, 87.5]),
    (0.1, [0.1, 3.35], [28, 31.5]),
    (0.85, [0.05, 1.9], [25, 5]),
    (0.3, [0.1, 1.7, 1.7], [28, 20, 5]),
    (0.15, [0.1, 1.5, 2.2], [25, 22, 20]),
    (0.6, [0.05, 0.2], [28, 10]),
    (0.75, [0.0, 0.2], [25, 89]),
    (0.9, [0.05, 0.2], [27, 84]),
    (0.65, [0.0, 0.15], [30, 70]),
    (0.4, [0.3, 4.0, 3.95, 5.0, 6.5, 7.2, 8.0, 8.9], [60, 35, 30, 62, 82, 70, 85, 70]),
    (0.25, [0.3, 3.0, 5.5, 6.0, 6.9], [70, 77, 60, 70, 53]),
    (0.45, [0.2, 2.9, 4.0, 5.5, 6.1, 7.0, 8.0], [85, 75, 85, 62, 85, 80, 88]),
    (0.65, [0.2, 1.5, 3.0, 4.5, 5.8, 7.0, 7.8], [80, 60, 65, 58, 75, 82, 70]),
    (0.5, [0.2, 2.0, 3.5, 5.0, 5.9, 6.8], [75, 85, 60, 58, 56, 75]),
    (0.15, [0.3, 1.0, 1.7, 2.4, 3.1], [30, 55, 85, 60, 89]),
    (0.85, [0.1, 1.0, 2.2, 3.2, 4.5], [85, 60, 50, 70, 62]),
    (0.2, [0.2, 1.2, 2.4, 3.0], [45, 58, 60, 80]),
    (0.75, [0.2, 1.5, 2.8, 4.2], [50, 75, 82, 60]),
    (0.4, [0.3, 1.8, 3.5], [89, 88, 83]),
    (0.3, [0.2, 1.1, 2.0, 2.6], [70, 40, 25, 45]),
    (0.55, [0.2, 1.5, 2.9, 3.3], [88, 65, 45, 13]),
    (0.7, [0.1, 1.0, 3.0], [65, 45, 72]),
    (0.1, [0.2, 1.5, 3.0, 5.9, 6.9], [70, 60, 68, 72, 55]),
    (0.6, [0.3, 3.0, 4.7, 6.0, 8.2], [62, 70, 57, 55, 75]),
    (0.9, [0.1, 1.7, 3.5, 5.0], [88, 70, 75, 68]),
    (0.7, [0.0, 0.05], [25, 88]),
    (0.55, [0.05, 0.1], [27, 82]),
    (0.8, [0.1, 0.15], [26, 86]),
    (0.6, [0.15, 0.35], [27, 80]),
    (0.85, [0.05, 0.3], [24, 72]),
    (0.65, [0.1, 0.9, 1.9, 2.8, 3.5], [85, 72, 62, 75, 55]),
    (0.8, [0.2, 1.0, 1.8, 2.6, 3.6], [75, 82, 55, 68, 65]),
    (0.5, [0.1, 1.2, 2.5, 3.8, 5.0], [70, 82, 70, 78, 72]),
    (0.9, [0.2, 0.8, 1.6, 2.4], [60, 50, 68, 40]),
    (0.35, [0.1, 0.9, 1.6, 2.1], [50, 68, 38, 58]),
    (0.6, [0.1, 2.0, 4.0, 5.8], [80, 70, 82, 65]),
    (0.75, [0.2, 2.4, 4.2, 5.4, 6.4], [68, 58, 65, 72, 60]),
    (0.45, [0.1, 1.3, 2.2], [30, 15, 12]),
    (0.2, [0.1, 0.9, 1.8, 2.5], [28, 18, 22, 14]),
    (0.7, [0.05, 0.7, 1.4], [26, 20, 8]),
]
egfr_25_50 = [
    (0.35, [0.2, 3.0, 6.0, 8.25, 9.1, 10.5, 10.8, 11.3], [75, 70, 60, 45, 45, 56, 51, 57]),
    (0.2, [0.3, 3.0, 6.05, 8.75, 9.55, 9.95, 11.0], [70, 62, 55.5, 38, 21.6, 28.5, 43]),
    (0.3, [0.2, 3.0, 6.2, 7.65, 8.5, 9.35, 9.95], [60, 65, 63, 74, 63, 82, 59]),
    (0.65, [0.2, 5.0, 7.2, 8.4, 9.4, 9.85], [55, 60, 55, 62, 80, 62]),
    (0.6, [0.1, 3.0, 5.0, 6.95, 7.5, 8.75, 9.5, 10.1], [28, 30, 34, 28.5, 32, 30, 37.5, 38]),
    (0.2, [0.1, 2.8, 5.4, 6.9, 7.5, 8.6], [28, 28, 26, 19.5, 23, 21.6]),
    (0.3, [0.3, 3.0, 5.9, 8.15], [65, 60, 51, 51]),
    (0.3, [0.2, 3.7, 3.9, 5.6], [60, 84, 86, 88.5]),
    (0.15, [0.1, 3.0, 4.75, 5.6, 5.7], [22, 14, 6.6, 7, 9]),
    (0.4, [0.1, 3.0, 5.5, 5.6], [28, 20, 14, 12]),
    (0.85, [0.05, 2.45], [28, 4]),
    (0.2, [0.05, 2.95], [25, 4.5]),
    (0.8, [0.1, 1.8, 3.2, 6.5], [28, 18, 25, 27]),
    (0.75, [0.0, 0.25], [25, 90]),
    (0.9, [0.0, 0.1], [22, 85]),
    (0.6, [0.05, 0.2], [24, 78]),
    (0.85, [0.1, 1.3, 1.4, 2.5], [30, 90, 50, 20]),
    (0.15, [0.2, 1.5, 2.2, 3.5, 4.5, 5.0], [85, 70, 85, 62, 80, 55]),
    (0.25, [0.3, 1.2, 2.0, 3.2, 4.0, 5.5], [88, 60, 72, 50, 55, 40]),
    (0.5, [0.1, 1.0, 2.0, 3.0, 3.4, 4.8, 5.5], [60, 75, 55, 70, 45, 62, 75]),
    (0.1, [0.2, 1.0, 2.5, 3.5, 5.0], [40, 50, 28, 35, 32]),
    (0.55, [0.1, 1.7, 2.5, 3.0, 3.1], [30, 45, 60, 63, 40]),
    (0.7, [0.2, 1.2, 2.6, 4.2, 6.0], [50, 65, 55, 60, 52]),
    (0.35, [0.1, 1.4, 2.5, 3.3], [28, 12, 11, 22]),
    (0.15, [0.3, 1.0, 2.8, 4.0, 5.5], [20, 10, 12, 12, 13]),
    (0.4, [0.2, 2.0, 2.4, 3.0, 3.6], [70, 82, 64, 80, 88]),
    (0.2, [0.1, 1.0, 2.0, 3.0, 4.2], [35, 45, 38, 48, 30]),
    (0.85, [0.2, 1.5, 2.8], [65, 45, 68]),
    (0.3, [0.05, 2.0, 3.2, 4.5], [28, 48, 55, 38]),
    (0.95, [0.1, 1.0, 2.2, 3.0], [26, 60, 32, 44]),
    (0.25, [0.4, 1.8, 3.0, 3.6], [12, 10, 8, 9]),
    (0.65, [0.1, 1.2, 2.0, 3.6, 5.0], [75, 85, 65, 55, 78]),
    (0.8, [0.0, 0.05], [24, 88]),
    (0.6, [0.05, 0.1], [26, 84]),
    (0.9, [0.1, 0.15], [22, 90]),
    (0.7, [0.15, 0.3], [27, 82]),
    (0.85, [0.05, 0.35], [26, 70]),
    (0.7, [0.1, 1.0, 1.8, 2.5], [28, 42, 20, 32]),
    (0.55, [0.1, 0.9, 1.6, 2.8, 3.6], [28, 12, 24, 15, 8]),
    (0.75, [0.1, 0.8, 1.5, 2.2], [80, 62, 78, 50]),
    (0.6, [0.2, 1.3, 2.3, 3.4], [45, 32, 48, 28]),
    (0.9, [0.1, 1.3, 2.5], [40, 68, 50]),
    (0.45, [0.2, 1.5, 2.9, 4.2], [55, 38, 62, 42]),
    (0.8, [0.1, 1.6, 2.7, 3.5], [62, 48, 70, 55]),
    (0.65, [0.3, 1.4, 2.2, 3.3, 4.3], [70, 55, 72, 65, 48]),
    (0.5, [0.1, 1.2, 2.4, 3.0], [28, 18, 10, 6]),
    (0.75, [0.1, 1.1, 2.1, 2.9], [26, 35, 18, 10]),
    (0.35, [0.2, 1.0, 2.0, 2.7], [85, 82, 60, 48]),
    (0.9, [0.05, 1.2, 1.9], [30, 24, 12]),
]

age_labels = ["[18-40]", "(40-50]", "(50-60]"]
age_strips = ["(16, 40]", "(40, 50]", "(50, 60]"]
bmi_labels = ["[0-15]", "(15-20]", "(20-25]", "(25-30]"]
bmi_strips = ["[0,15]", "(15,20]", "(20,25]", "(25,30]"]
panels = [
    [egfr_0_18, egfr_0_40, egfr_0_50],
    [egfr_15_18, egfr_15_40, egfr_15_50],
    [egfr_20_18, egfr_20_40, egfr_20_50],
    [egfr_25_18, egfr_25_40, egfr_25_50],
]

W, H = 609, 542
col_left = [60, 234, 409]
col_w = 172
row_top = [41, 159, 278, 397]
row_h = 107.7
strip_h = 9
col_label_x = [143, 308, 498]
row_label_y = [92, 211, 331, 450]

cmap = LinearSegmentedColormap.from_list("gg", ["#132B43", "#56B1F7"])


def px_axes(fig, x0, y0, w, h):
    # pixel box measured from top left
    return fig.add_axes([x0 / W, 1 - (y0 + h) / H, w / W, h / H])


fig = plt.figure(figsize=(6.09, 5.42), dpi=100)

for r in range(4):
    for c in range(3):
        ax = px_axes(fig, col_left[c], row_top[r], col_w, row_h)
        ax.set_facecolor("#E5E5E5")
        for s in ax.spines.values():
            s.set_visible(False)
        ax.set_xlim(-0.62, 11.92)
        ax.set_ylim(-2.7, 93.9)
        ax.set_xticks([0, 3, 6, 9])
        ax.set_yticks([0, 25, 50, 75])
        ax.set_xticks([1.5, 4.5, 7.5, 10.5], minor=True)
        ax.set_yticks([12.5, 37.5, 62.5, 87.5], minor=True)
        ax.grid(True, which="major", color="white", lw=1.0)
        ax.grid(True, which="minor", color="#F2F2F2", lw=0.5)
        ax.set_axisbelow(True)
        ax.tick_params(which="minor", length=0)
        ax.tick_params(which="major", length=2.5, width=0.6, color="#7F7F7F",
                       labelcolor="#8C8C8C", labelsize=5, pad=1.5,
                       bottom=r == 3, left=c == 0,
                       labelbottom=r == 3, labelleft=c == 0)
        for shade, t, v in panels[r][c]:
            ax.plot(t, v, color=cmap(shade), lw=0.95, solid_joinstyle="round")

        strip = px_axes(fig, col_left[c], row_top[r] - strip_h, col_w, strip_h)
        strip.set_facecolor("#CCCCCC")
        strip.set_xticks([])
        strip.set_yticks([])
        for s in strip.spines.values():
            s.set_visible(False)
        strip.text(0.5, 0.47, bmi_strips[r] + ", " + age_strips[c], ha="center", va="center",
                   fontsize=4.2, color="#333333", transform=strip.transAxes)

for c in range(3):
    fig.text(col_label_x[c] / W, 1 - 15 / H, age_labels[c], ha="center", va="center", fontsize=11.8)
for r in range(4):
    fig.text(597 / W, 1 - row_label_y[r] / H, bmi_labels[r], ha="center", va="center",
             rotation=-90, fontsize=11.8)

fig.text(322 / W, 1 - 530 / H, "Time (years)", ha="center", va="center", fontsize=16)
fig.text(21 / W, 1 - 264 / H, "eGFR (mL/min/1.73^2)", ha="center", va="center", rotation=90, fontsize=16)

fig.savefig("out.png", dpi=100)
